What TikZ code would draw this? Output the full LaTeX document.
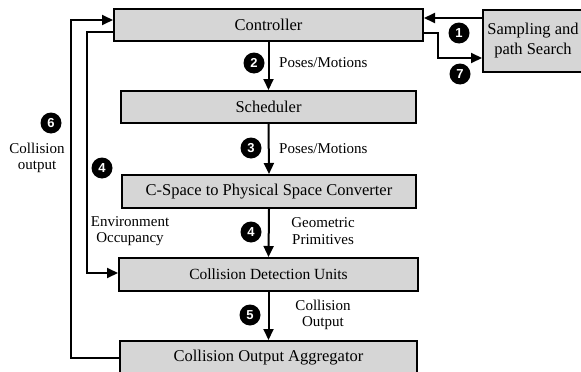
\documentclass[tikz,border=0pt]{standalone}
\usepackage{fontspec}
\setmainfont{Liberation Serif}
\newfontfamily\badgefont{Liberation Sans}
\usetikzlibrary{arrows.meta,calc}

\tikzset{
  block/.style={draw=black, line width=2pt, fill=black!16, inner sep=0pt,
    font=\fontsize{16.5}{18}\selectfont},
  lbl/.style={font=\fontsize{15}{16.5}\selectfont, align=center, inner sep=0pt},
  badge/.style={circle, fill=black, text=white, inner sep=0pt, minimum size=21pt,
    font=\badgefont\bfseries\fontsize{13}{13}\selectfont},
  flow/.style={line width=2pt, -{Triangle[length=11pt,width=10pt]}},
}

\begin{document}
\begin{tikzpicture}[x=1pt, y=-1pt]
  \clip (0,0) rectangle (581,372);
  \fill[white] (0,0) rectangle (581,372);

  % pipeline stages
  \node[block, minimum width=309pt, minimum height=32pt] (ctrl)  at (268.5,25)   {Controller};
  \node[block, minimum width=295pt, minimum height=32pt] (sched) at (268.5,107)  {Scheduler};
  \node[block, minimum width=294pt, minimum height=33pt] (conv)  at (269,191.5)  {C-Space to Physical Space Converter};
  \node[block, minimum width=299pt, minimum height=33pt,
        font=\fontsize{15.5}{17}\selectfont] (cdu) at (268.5,274.5) {Collision Detection Units};
  \node[block, minimum width=297pt, minimum height=33pt] (agg)   at (268.5,357.5) {Collision Output Aggregator};
  \node[block, minimum width=100pt, minimum height=62pt, align=center,
        font=\fontsize{16.5}{20}\selectfont] (samp) at (533,41) {Sampling and\\path Search};

  % main downward flow
  \draw[flow] (ctrl.south)  -- (sched.north);
  \draw[flow] (sched.south) -- (conv.north);
  \draw[flow] (conv.south)  -- (cdu.north);
  \draw[flow] (cdu.south)   -- (agg.north);

  % feedback loops on the left
  \draw[flow] (agg.west) -| ($(ctrl.west)+(-42,-5)$) -- ($(ctrl.west)+(0,-5)$);
  \draw[flow] ($(ctrl.west)+(0,7)$) -| ($(cdu.west)+(-31,-1.5)$) -- ($(cdu.west)+(0,-1.5)$);

  % exchange with the sampling / path search unit
  \draw[flow] ($(samp.west)+(0,-23)$) -- ($(ctrl.east)+(0,-7)$);
  \draw[flow] ($(ctrl.east)+(0,8)$) -- ++(14,0) |- ($(samp.west)+(0,17)$);

  % edge labels
  \node[lbl, anchor=west] (l2) at (279,63)  {Poses/Motions};
  \node[lbl, anchor=west] (l3) at (279,149) {Poses/Motions};
  \node[lbl] (l4) at (323,231) {Geometric\\Primitives};
  \node[lbl] (l5) at (323,315) {Collision\\Output};
  \node[lbl] (l6) at (37,158)  {Collision\\output};
  \node[lbl] (l4e) at (130,231) {Environment\\Occupancy};

  % step numbers
  \node[badge] (b1)  at (459,33)  {1};
  \node[badge] (b2)  at (254,63)  {2};
  \node[badge] (b3)  at (251,148) {3};
  \node[badge] (b4a) at (102,168) {4};
  \node[badge] (b4b) at (251,232) {4};
  \node[badge] (b5)  at (250,315) {5};
  \node[badge] (b6)  at (51,123)  {6};
  \node[badge] (b7)  at (460,74)  {7};
\end{tikzpicture}
\end{document}
